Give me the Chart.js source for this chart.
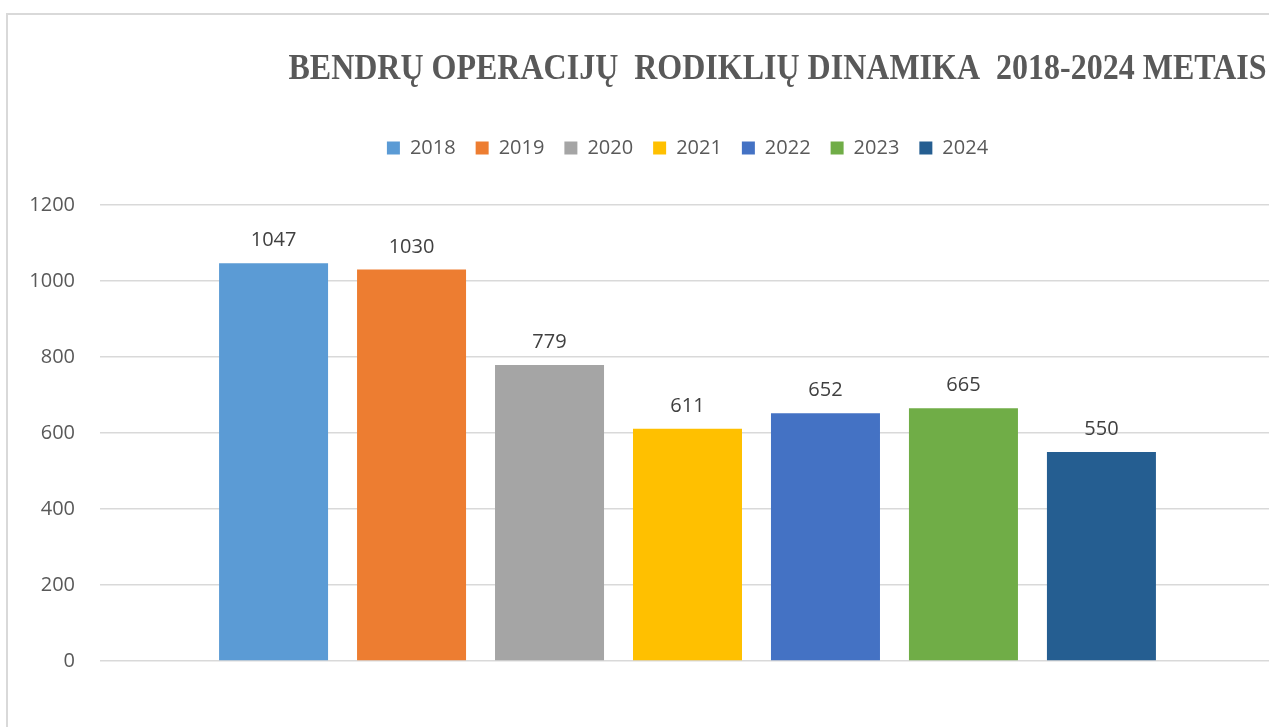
<!DOCTYPE html>
<html>
<head>
<meta charset="utf-8">
<script src="https://cdn.jsdelivr.net/npm/chart.js@4.4.1/dist/chart.umd.min.js"></script>
<style>
  html, body { margin: 0; padding: 0; background: #fff; overflow: hidden; }
  #wrap {
    position: absolute; left: 6px; top: 13px;
    width: 1290px; height: 712px;
    border-left: 2px solid #d9d9d9; border-top: 2px solid #d9d9d9;
  }
</style>
</head>
<body>
<div id="wrap"><canvas id="chart"></canvas></div>
<script>
// --- DATOS ---
const chartTitle = 'BENDRŲ OPERACIJŲ  RODIKLIŲ DINAMIKA  2018-2024 METAIS';
const years = ['2018', '2019', '2020', '2021', '2022', '2023', '2024'];
const values = [1047, 1030, 779, 611, 652, 665, 550];
const yTicks = [0, 200, 400, 600, 800, 1000, 1200];

// paleta de Excel
const palette = ['#5B9BD5', '#ED7D31', '#A5A5A5', '#FFC000', '#4472C4', '#70AD47', '#255E91'];

const textFont = '"Open Sans", "Noto Sans", sans-serif';

// Un dataset por año, una sola categoría
const datasets = years.map((year, i) => ({
    label: year,
    data: [values[i]],
    backgroundColor: palette[i],
    borderWidth: 0,
    categoryPercentage: 0.822,
    barPercentage: 0.79
}));

// Título dibujado a mano (en Excel está desplazado a la derecha)
const titlePlugin = {
    id: 'excelTitle',
    afterDraw(chart) {
        const ctx = chart.ctx;
        const area = chart.chartArea;
        ctx.save();
        ctx.font = 'bold 32px "Liberation Serif", "Times New Roman", serif';
        ctx.fillStyle = '#595959';
        ctx.textAlign = 'center';
        ctx.textBaseline = 'alphabetic';
        ctx.translate((area.left + area.right) / 2 + 90, 64);
        ctx.scale(1, 1.13);
        ctx.fillText(chartTitle, 0, 0);
        ctx.restore();
    }
};

// Etiquetas de valor encima de cada barra
const valueLabels = {
    id: 'valueLabels',
    afterDatasetsDraw(chart) {
        const ctx = chart.ctx;
        ctx.save();
        ctx.font = '20px ' + textFont;
        ctx.fillStyle = '#404040';
        ctx.textAlign = 'center';
        ctx.textBaseline = 'alphabetic';
        chart.data.datasets.forEach((ds, i) => {
            const bar = chart.getDatasetMeta(i).data[0];
            ctx.fillText(String(ds.data[0]), bar.x, bar.y - 17);
        });
        ctx.restore();
    }
};

// Espacio extra debajo de la leyenda
const legendSpace = {
    id: 'legendSpace',
    beforeLayout(chart) {
        const legend = chart.legend;
        if (legend && !legend._patched) {
            const fit = legend.fit;
            legend.fit = function () {
                fit.call(this);
                this.height += 37;
            };
            legend._patched = true;
        }
    }
};

new Chart(document.getElementById('chart'), {
    type: 'bar',
    data: { labels: [''], datasets: datasets },
    options: {
        responsive: true,
        maintainAspectRatio: false,
        animation: false,
        layout: { padding: { top: 103, right: 23, bottom: 66, left: 0 } },
        plugins: {
            title: { display: false },
            tooltip: { enabled: false },
            legend: {
                position: 'top',
                fullSize: false,
                labels: {
                    boxWidth: 13,
                    boxHeight: 13,
                    padding: 20,
                    color: '#595959',
                    font: { family: textFont, size: 20 }
                }
            }
        },
        scales: {
            x: { display: false },
            y: {
                min: 0,
                max: 1200,
                afterBuildTicks(scale) {
                    scale.ticks = yTicks.map(v => ({ value: v }));
                },
                afterFit(scale) { scale.width = 92; },
                border: { display: false },
                grid: { color: '#d9d9d9', lineWidth: 1.5, drawTicks: false },
                ticks: {
                    padding: 25,
                    color: '#595959',
                    font: { family: textFont, size: 20 },
                    callback: v => String(v)
                }
            }
        }
    },
    plugins: [titlePlugin, valueLabels, legendSpace]
});
</script>
</body>
</html>
